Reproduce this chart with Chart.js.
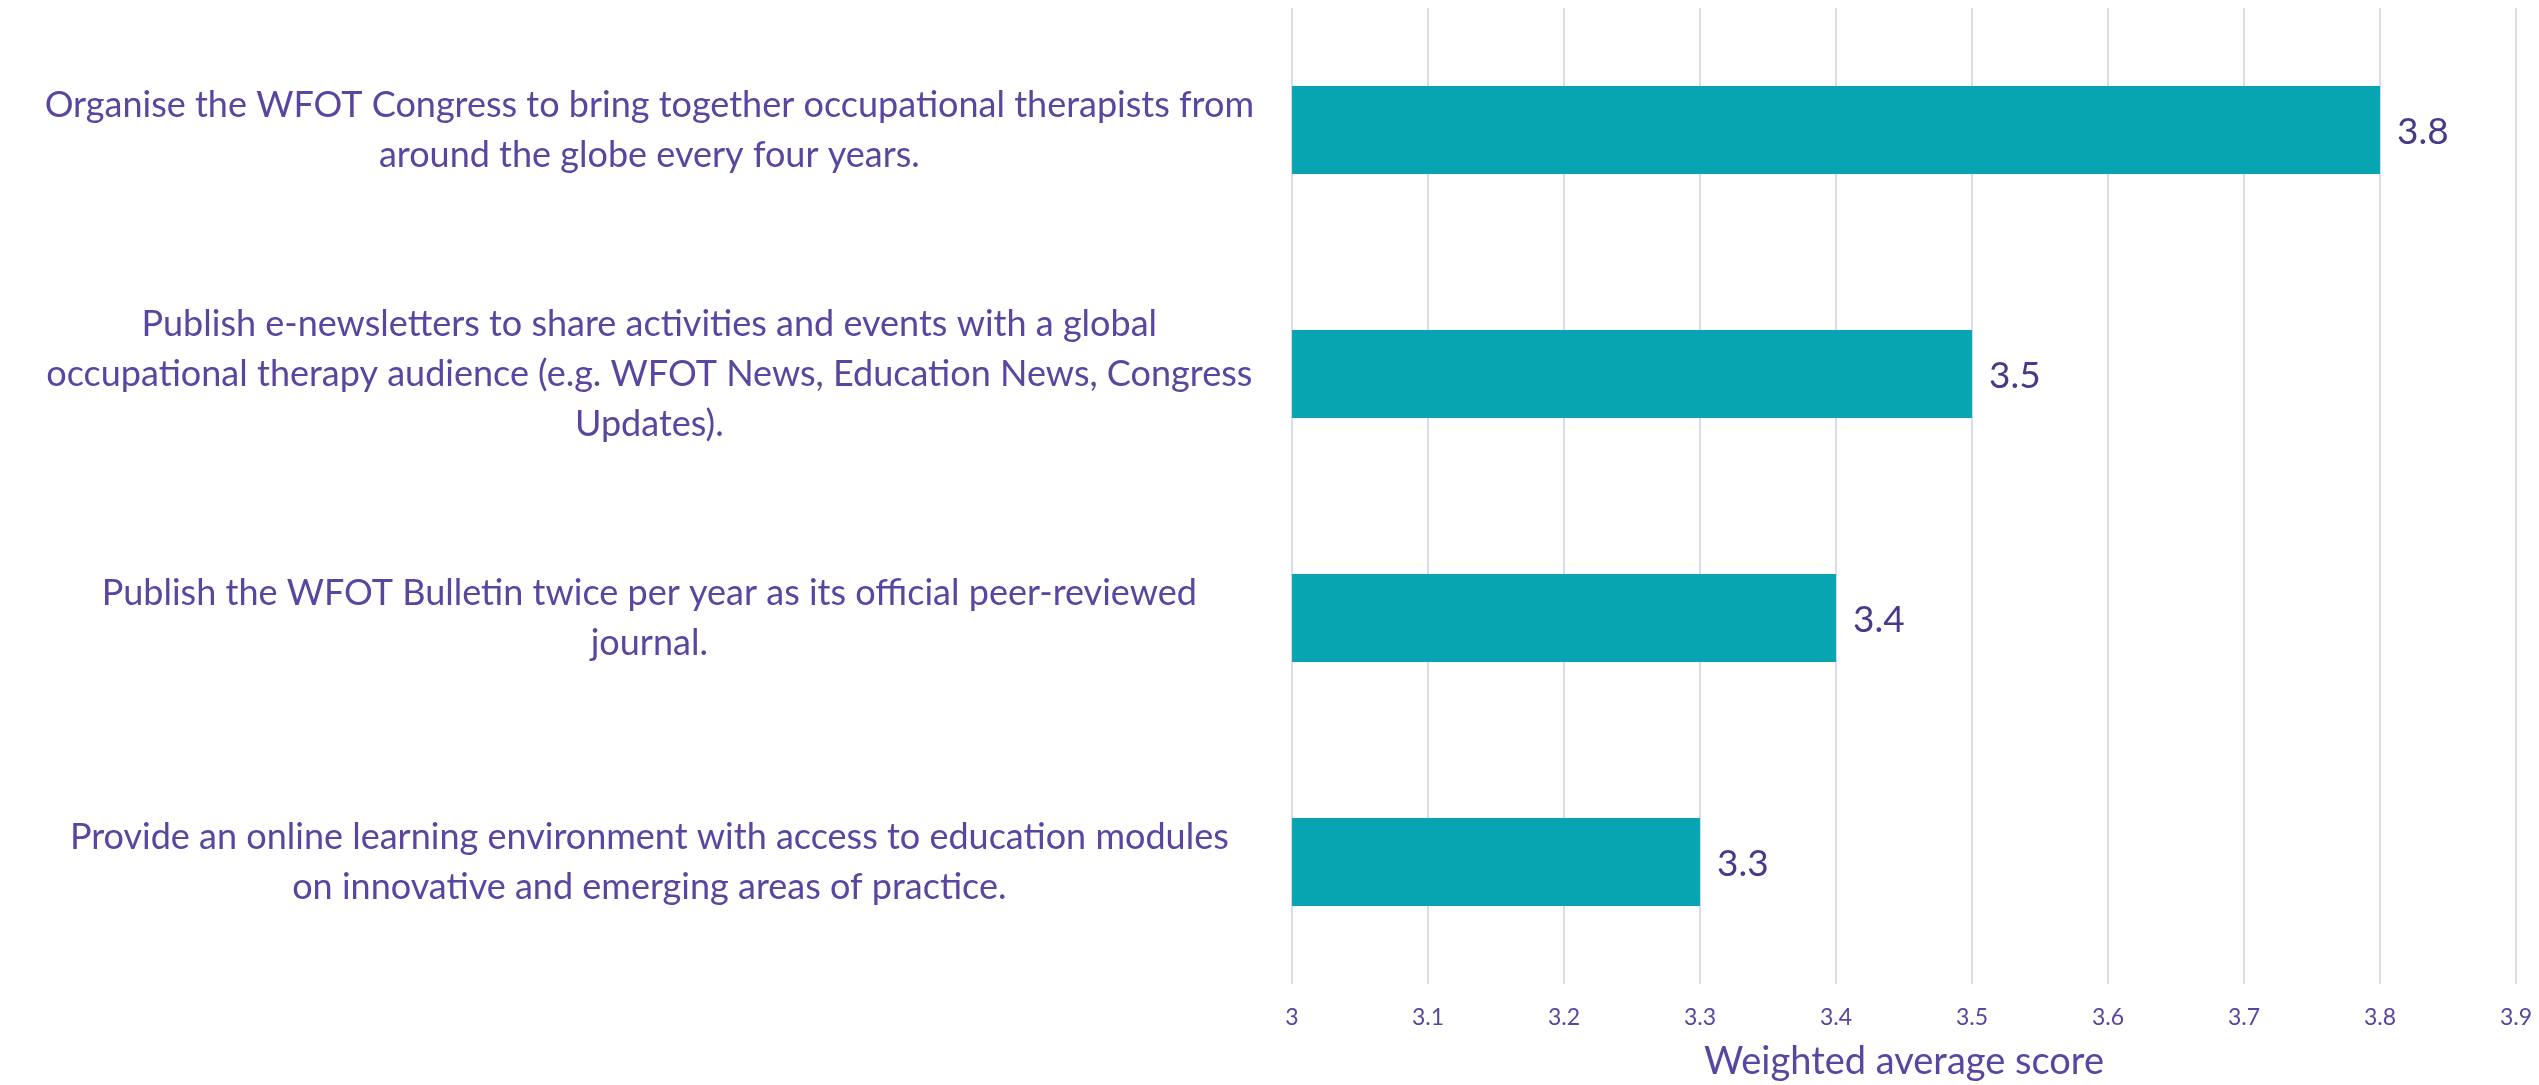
<!DOCTYPE html>
<html>
<head>
<meta charset="utf-8">
<script src="https://cdn.jsdelivr.net/npm/chart.js@4/dist/chart.umd.min.js"></script>
<style>
  html, body { margin: 0; padding: 0; background: #ffffff; }
  #wrap { width: 2539px; height: 1085px; }
</style>
</head>
<body>
<div id="wrap"><canvas id="c" width="2539" height="1085"></canvas></div>
<script>
// ---- data ----
const categories = [
  ["Organise the WFOT Congress to bring together occupational therapists from", "around the globe every four years."],
  ["Publish e-newsletters to share activities and events with a global", "occupational therapy audience (e.g. WFOT News, Education News, Congress", "Updates)."],
  ["Publish the WFOT Bulletin twice per year as its official peer-reviewed", "journal."],
  ["Provide an online learning environment with access to education modules", "on innovative and emerging areas of practice."]
];
const scores = [3.8, 3.5, 3.4, 3.3];
const xTickValues = [3, 3.1, 3.2, 3.3, 3.4, 3.5, 3.6, 3.7, 3.8, 3.9];
const xTickLabels = ["3", "3.1", "3.2", "3.3", "3.4", "3.5", "3.6", "3.7", "3.8", "3.9"];
const axisTitle = "Weighted average score";

// ---- style ----
const FONT = "Lato, 'Open Sans', sans-serif";
const PURPLE = "#5a45a0";
const DARK_PURPLE = "#463a8b";
const TEAL = "#07a5b2";
const GRID = "#dcd8ee";

// fit category label font so the widest line spans ~1236px
const mctx = document.createElement('canvas').getContext('2d');
mctx.font = "100px " + FONT;
let widest = 0;
categories.forEach(lines => lines.forEach(l => { widest = Math.max(widest, mctx.measureText(l).width); }));
const catSize = Math.min(36, 100 * 1236 / widest);

const valueLabels = {
  id: 'valueLabels',
  afterDatasetsDraw(chart) {
    const ctx = chart.ctx;
    const meta = chart.getDatasetMeta(0);
    ctx.save();
    ctx.font = "37px " + FONT;
    ctx.fillStyle = DARK_PURPLE;
    ctx.textAlign = 'left';
    ctx.textBaseline = 'middle';
    meta.data.forEach((el, i) => {
      ctx.fillText(String(chart.data.datasets[0].data[i]), el.x + 17, el.y + 2);
    });
    ctx.restore();
  }
};

new Chart(document.getElementById('c'), {
  type: 'bar',
  data: {
    labels: categories,
    datasets: [{
      data: scores,
      backgroundColor: TEAL,
      borderWidth: 0,
      categoryPercentage: 1,
      barPercentage: 0.36
    }]
  },
  options: {
    indexAxis: 'y',
    responsive: false,
    animation: false,
    devicePixelRatio: 1,
    layout: { padding: { top: 8, right: 0, left: 0, bottom: 0 } },
    plugins: {
      legend: { display: false },
      tooltip: { enabled: false }
    },
    scales: {
      x: {
        type: 'linear',
        min: 3,
        max: 3.9,
        afterBuildTicks(scale) {
          scale.ticks = xTickValues.map(v => ({ value: v }));
        },
        afterFit(scale) {
          scale.height = 101;
          scale.paddingLeft = 0;
          scale.paddingRight = 23;
        },
        grid: { color: GRID, lineWidth: 2, drawTicks: false },
        border: { display: false },
        ticks: {
          padding: 20,
          color: PURPLE,
          font: { family: FONT, size: 23 },
          callback(value, index) { return xTickLabels[index]; }
        },
        title: {
          display: true,
          text: axisTitle,
          color: PURPLE,
          font: { family: FONT, size: 38 },
          padding: { top: 0, bottom: 0 }
        }
      },
      y: {
        grid: { display: false, drawTicks: false },
        border: { display: false },
        afterFit(scale) {
          scale.width = 1292;
          scale.paddingTop = 0;
          scale.paddingBottom = 0;
        },
        ticks: {
          crossAlign: 'center',
          padding: 38,
          color: PURPLE,
          autoSkip: false,
          font: { family: FONT, size: catSize, lineHeight: 50 / catSize }
        }
      }
    }
  },
  plugins: [valueLabels]
});
</script>
</body>
</html>
